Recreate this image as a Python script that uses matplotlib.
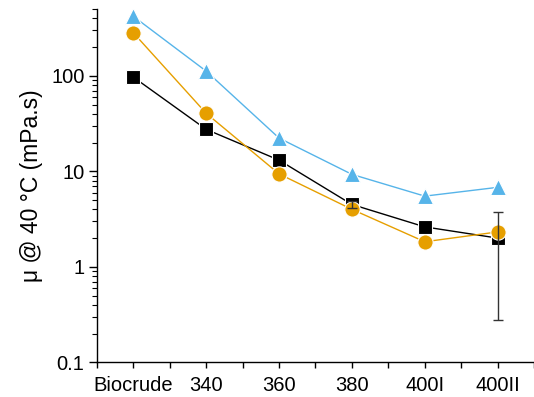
import matplotlib
matplotlib.use("Agg")
import matplotlib.pyplot as plt
from matplotlib.ticker import FixedLocator, LogLocator, NullFormatter, FixedFormatter

plt.rcParams["font.family"] = ["Liberation Sans", "DejaVu Sans"]

categories = ["Biocrude", "340", "360", "380", "400I", "400II"]
black_vals = [97, 27.5, 13.1, 4.5, 2.62, 2.0]
black_err = [0, 0, 0, 0.35, 0, 1.72]
orange_vals = [282, 40.5, 9.4, 4.0, 1.83, 2.32]
blue_vals = [420, 112, 22.3, 9.3, 5.5, 6.8]

x = list(range(len(categories)))

fig = plt.figure(figsize=(5.34, 3.97), dpi=100)
ax = fig.add_axes([0.1816, 0.0874, 0.8184, 0.8896])

ax.plot(x, black_vals, color="black", lw=1.0, marker="s", ms=9.6,
        mfc="black", mec="white", mew=0.8, zorder=3)
ax.plot(x, orange_vals, color="#E69F00", lw=1.0, marker="o", ms=11,
        mfc="#E69F00", mec="white", mew=0.8, zorder=4)

# error bars only where a spread was measured
idx = [i for i, e in enumerate(black_err) if e > 0]
ax.errorbar([x[i] for i in idx], [black_vals[i] for i in idx],
            yerr=[black_err[i] for i in idx], fmt="none", ecolor="#333333",
            elinewidth=1.0, capsize=3.5, capthick=1.0, zorder=5)

ax.plot(x, blue_vals, color="#56B4E9", lw=1.0, marker="^", ms=12,
        mfc="#56B4E9", mec="white", mew=0.8, zorder=6)

ax.set_yscale("log")
ax.set_ylim(0.1, 500)
ax.set_xlim(-0.5, 5.5)

ax.xaxis.set_major_locator(FixedLocator(x))
ax.xaxis.set_major_formatter(FixedFormatter(categories))
ax.xaxis.set_minor_locator(FixedLocator([i - 0.5 for i in range(len(categories) + 1)]))

ax.yaxis.set_minor_locator(LogLocator(base=10, subs=range(2, 10), numticks=20))
ax.yaxis.set_minor_formatter(NullFormatter())
ax.set_yticks([0.1, 1, 10, 100])
ax.set_yticklabels(["0.1", "1", "10", "100"])

for s in ("top", "right"):
    ax.spines[s].set_visible(False)
for s in ("left", "bottom"):
    ax.spines[s].set_linewidth(1.0)

ax.tick_params(axis="y", which="major", length=6, width=1.0, labelsize=14.5, pad=3)
ax.tick_params(axis="y", which="minor", length=3.5, width=0.8)
ax.tick_params(axis="x", which="major", length=4, width=1.0, labelsize=14.5, pad=6)
ax.tick_params(axis="x", which="minor", length=4, width=1.0)

ax.set_ylabel("μ @ 40 °C (mPa.s)", fontsize=16.5, labelpad=6)

fig.savefig("out.png", dpi=100)
